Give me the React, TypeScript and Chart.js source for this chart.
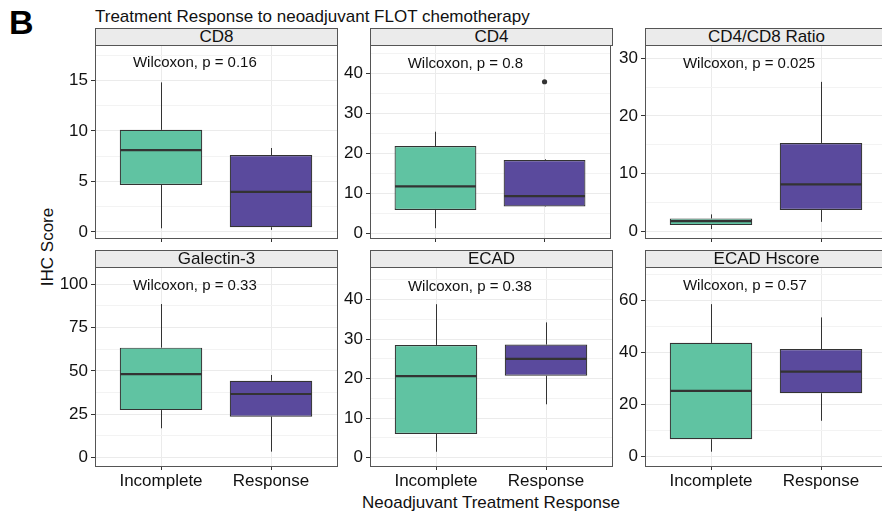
import React, { useEffect, useRef } from "react";
import { Chart, registerables } from "chart.js";

Chart.register(...registerables);

// ---------------- DATA ----------------
const categories = ["Incomplete", "Response"];
const markers = ["CD8", "CD4", "CD4/CD8 Ratio", "Galectin-3", "ECAD", "ECAD Hscore"];
const pValues = ["0.16", "0.8", "0.025", "0.33", "0.38", "0.57"];

// [lower whisker, Q1, median, Q3, upper whisker]
const incompleteBoxes = [
  [0.35, 4.65, 8.1, 10.1, 14.8],
  [1.25, 5.8, 11.7, 21.8, 25.4],
  [0.35, 1.04, 1.74, 2.2, 2.9],
  [16.8, 27.3, 48.1, 63.4, 88.6],
  [1.5, 6.0, 20.6, 28.5, 38.8],
  [1.9, 6.7, 25.3, 43.8, 58.7],
];
const responseBoxes = [
  [0.2, 0.45, 3.95, 7.6, 8.3],
  [6.6, 6.7, 9.3, 18.3, 18.5],
  [1.6, 3.65, 8.1, 15.3, 25.9],
  [3.3, 23.5, 36.6, 44.3, 47.6],
  [13.5, 20.7, 25.0, 28.6, 34.2],
  [13.8, 24.4, 32.7, 41.4, 53.6],
];
const incompleteOutliers: number[][] = [[], [], [], [], [], []];
const responseOutliers: number[][] = [[], [37.9], [], [], [], []];

const yLimitLow = [-0.61, -1.2, -1.2, -5.0, -2.1, -3.6];
const yLimitHigh = [18.5, 47.1, 32.3, 110, 48.2, 73];
const majorTicks = [
  [0, 5, 10, 15],
  [0, 10, 20, 30, 40],
  [0, 10, 20, 30],
  [0, 25, 50, 75, 100],
  [0, 10, 20, 30, 40],
  [0, 20, 40, 60],
];
const minorTicks = [
  [2.5, 7.5, 12.5, 17.5],
  [5, 15, 25, 35, 45],
  [5, 15, 25],
  [12.5, 37.5, 62.5, 87.5],
  [5, 15, 25, 35, 45],
  [10, 30, 50, 70],
];
const pLabelY = [16.7, 42.5, 29.1, 99, 43.3, 65.8];
const pLabelX = 0.745;

// ---------------- STYLE / LAYOUT ----------------
const FONT = '"Liberation Sans", Arial, Helvetica, sans-serif';
const FILLS = ["#60C3A2", "#5A4A9D"];
const LINE = "#333333";
const COL_LEFT = [95, 370, 645];
const ROW_TOP = [45, 267];
const ROW_H = [193, 199];
const PLOT_W = 242;
const STRIP_H = 17;
const AXW = 50;
const PADT = 14;
const PADR = 2;
const XH = 30;

function Panel({ idx }: { idx: number }) {
  const ref = useRef<HTMLCanvasElement>(null);
  const col = idx % 3;
  const row = Math.floor(idx / 3);
  const plotLeft = COL_LEFT[col];
  const plotTop = ROW_TOP[row];
  const plotH = ROW_H[row];
  const cw = AXW + PLOT_W + PADR;
  const ch = PADT + plotH + XH;

  useEffect(() => {
    const stats = [incompleteBoxes[idx], responseBoxes[idx]];
    const majors = majorTicks[idx];
    const allTicks = [...majorTicks[idx], ...minorTicks[idx]].sort((a, b) => a - b);
    const isMajor = (v: number) => majors.indexOf(v) >= 0;

    const extras = {
      id: "boxExtras",
      beforeDatasetsDraw(chart: any) {
        const ctx = chart.ctx;
        const ys = chart.scales.y;
        const meta = chart.getDatasetMeta(0);
        ctx.save();
        ctx.strokeStyle = LINE;
        ctx.lineWidth = 1;
        meta.data.forEach((bar: any, i: number) => {
          const { x } = bar.getProps(["x"], true);
          const px = Math.round(x) + 0.5;
          const s = stats[i];
          ctx.beginPath();
          ctx.moveTo(px, ys.getPixelForValue(s[0]));
          ctx.lineTo(px, ys.getPixelForValue(s[1]));
          ctx.moveTo(px, ys.getPixelForValue(s[3]));
          ctx.lineTo(px, ys.getPixelForValue(s[4]));
          ctx.stroke();
        });
        ctx.restore();
      },
      afterDatasetsDraw(chart: any) {
        const ctx = chart.ctx;
        const ys = chart.scales.y;
        const xs = chart.scales.x;
        const meta = chart.getDatasetMeta(0);
        const area = chart.chartArea;
        ctx.save();
        ctx.strokeStyle = LINE;
        ctx.lineWidth = 2.2;
        meta.data.forEach((bar: any, i: number) => {
          const { x, width } = bar.getProps(["x", "width"], true);
          const py = ys.getPixelForValue(stats[i][2]);
          ctx.beginPath();
          ctx.moveTo(x - width / 2 + 0.5, py);
          ctx.lineTo(x + width / 2 - 0.5, py);
          ctx.stroke();
        });
        // p-value annotation
        ctx.fillStyle = "#111111";
        ctx.font = `15px ${FONT}`;
        ctx.textAlign = "left";
        ctx.textBaseline = "middle";
        ctx.fillText(
          `Wilcoxon, p = ${pValues[idx]}`,
          xs.getPixelForValue(pLabelX),
          ys.getPixelForValue(pLabelY[idx])
        );
        // panel border
        ctx.strokeStyle = "#555555";
        ctx.lineWidth = 1;
        ctx.strokeRect(area.left + 0.5, area.top + 0.5, area.right - area.left, area.bottom - area.top);
        ctx.restore();
      },
    };

    const outlierData = [
      ...incompleteOutliers[idx].map((v) => ({ x: 1, y: v })),
      ...responseOutliers[idx].map((v) => ({ x: 2, y: v })),
    ];

    const chart = new Chart(ref.current as HTMLCanvasElement, {
      type: "bar",
      data: {
        datasets: [
          {
            type: "bar",
            data: stats.map((s, i) => ({ x: i + 1, y: [s[1], s[3]] })) as any,
            backgroundColor: FILLS,
            borderColor: LINE,
            borderWidth: 1.2,
            borderSkipped: false,
            barPercentage: 0.75,
            categoryPercentage: 1,
            grouped: false,
          } as any,
          {
            type: "scatter",
            data: outlierData as any,
            pointRadius: 2.6,
            pointBackgroundColor: LINE,
            pointBorderWidth: 0,
          } as any,
        ],
      },
      options: {
        animation: false,
        responsive: false,
        maintainAspectRatio: false,
        devicePixelRatio: 1,
        layout: { padding: { top: PADT, right: PADR, left: 0, bottom: 0 } },
        plugins: { legend: { display: false }, tooltip: { enabled: false } },
        scales: {
          x: {
            type: "linear",
            min: 0.4,
            max: 2.6,
            offset: false,
            afterBuildTicks: (ax: any) => {
              ax.ticks = [1, 2].map((v) => ({ value: v }));
            },
            afterFit: (ax: any) => {
              ax.height = XH;
            },
            grid: {
              offset: false,
              color: "#EBEBEB",
              lineWidth: 1,
              drawTicks: true,
              tickLength: 4,
              tickColor: LINE,
            },
            border: { display: false },
            ticks: {
              display: row === 1,
              autoSkip: false,
              maxRotation: 0,
              padding: 1,
              color: "#111111",
              font: { family: FONT, size: 17 },
              callback: (v: any) => categories[Math.round(Number(v)) - 1] ?? "",
            },
          },
          y: {
            type: "linear",
            min: yLimitLow[idx],
            max: yLimitHigh[idx],
            afterBuildTicks: (ax: any) => {
              ax.ticks = allTicks.map((v) => ({ value: v }));
            },
            afterFit: (ax: any) => {
              ax.width = AXW;
            },
            grid: {
              color: (c: any) => (c.tick && isMajor(c.tick.value) ? "#EBEBEB" : "#F3F3F3"),
              lineWidth: 1,
              drawTicks: true,
              tickLength: 4,
              tickColor: (c: any) => (c.tick && isMajor(c.tick.value) ? LINE : "rgba(0,0,0,0)"),
            },
            border: { display: false },
            ticks: {
              autoSkip: false,
              padding: 3,
              color: "#111111",
              font: { family: FONT, size: 17 },
              callback: (v: any) => (isMajor(Number(v)) ? String(v) : ""),
            },
          },
        },
      } as any,
      plugins: [extras as any],
    });
    return () => chart.destroy();
  }, [idx]);

  return (
    <>
      <div
        style={{
          position: "absolute",
          left: plotLeft,
          top: plotTop - STRIP_H,
          width: PLOT_W + 1,
          height: STRIP_H + 1,
          boxSizing: "border-box",
          border: "1px solid #555555",
          background: "#EBEBEB",
          color: "#111111",
          fontSize: 17,
          lineHeight: `${STRIP_H - 1}px`,
          textAlign: "center",
          whiteSpace: "nowrap",
        }}
      >
        {markers[idx]}
      </div>
      <canvas
        ref={ref}
        width={cw}
        height={ch}
        style={{ position: "absolute", left: plotLeft - AXW, top: plotTop - PADT, width: cw, height: ch }}
      />
    </>
  );
}

export default function App() {
  return (
    <div
      style={{
        position: "fixed",
        left: 0,
        top: 0,
        width: 882,
        height: 518,
        overflow: "hidden",
        background: "#ffffff",
        fontFamily: FONT,
        color: "#111111",
      }}
    >
      <div style={{ position: "absolute", left: 9, top: 6, fontSize: 34, lineHeight: "32px", fontWeight: "bold", color: "#000" }}>
        B
      </div>
      <div style={{ position: "absolute", left: 95, top: 8, fontSize: 17, lineHeight: "17px", whiteSpace: "nowrap" }}>
        Treatment Response to neoadjuvant FLOT chemotherapy
      </div>
      <div
        style={{
          position: "absolute",
          left: 47,
          top: 247,
          fontSize: 17,
          lineHeight: "17px",
          whiteSpace: "nowrap",
          transform: "translate(-50%, -50%) rotate(-90deg)",
        }}
      >
        IHC Score
      </div>
      <div
        style={{
          position: "absolute",
          left: 491,
          top: 494,
          fontSize: 17,
          lineHeight: "17px",
          whiteSpace: "nowrap",
          transform: "translateX(-50%)",
        }}
      >
        Neoadjuvant Treatment Response
      </div>
      {markers.map((_, i) => (
        <Panel key={i} idx={i} />
      ))}
    </div>
  );
}
